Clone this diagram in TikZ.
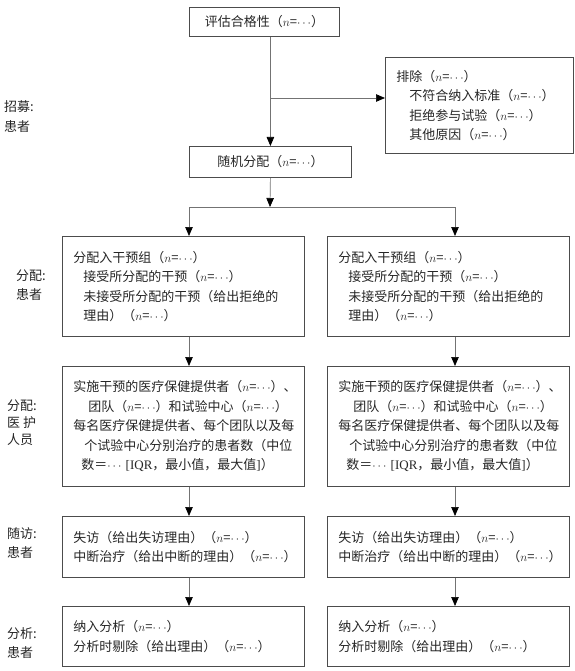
\documentclass[tikz,border=0pt]{standalone}
\usepackage{fontspec}
\setmainfont{Noto Sans CJK SC}
\newfontfamily\tnr{Liberation Serif}
\usetikzlibrary{arrows.meta,positioning}
\definecolor{boxgray}{gray}{0.3}
\definecolor{linegray}{gray}{0.45}
\definecolor{txtgray}{gray}{0.15}
\newcommand\nval{（$n$=$\cdots$）}
\tikzset{
  stage/.style={draw=boxgray, line width=0.8pt, rectangle, anchor=north west,
    inner xsep=11pt, inner ysep=0pt, text width=220pt, align=left, text=txtgray,
    font=\fontsize{13pt}{19.5pt}\selectfont},
  plainbox/.style={draw=boxgray, line width=0.8pt, rectangle, anchor=north west,
    inner sep=0pt, text=txtgray, font=\fontsize{13pt}{16pt}\selectfont},
  sidelabel/.style={anchor=west, inner sep=0pt, align=left, text=txtgray},
  conn/.style={draw=linegray, line width=0.7pt},
  arr/.style={conn, -{Triangle[length=9pt,width=7.5pt,color=black]}}
}

\begin{document}
\begin{tikzpicture}[x=1pt,y=-1pt]
\useasboundingbox (0,0) rectangle (574,671);

\node[plainbox, minimum width=150pt, minimum height=29pt] (elig) at (189,7) {评估合格性\nval};
\node[stage, text width=166pt, minimum height=96pt] (excl) at (385,57)
  {排除\nval\\
   \hspace*{13pt}不符合纳入标准\nval\\
   \hspace*{13pt}拒绝参与试验\nval\\
   \hspace*{13pt}其他原因\nval};
\node[plainbox, minimum width=162pt, minimum height=31pt] (rand) at (189,146) {随机分配\nval};

\node[sidelabel, font=\fontsize{13pt}{20pt}\selectfont] (labrec) at (4,117) {招募:\\患者};
\node[sidelabel, font=\fontsize{13pt}{19pt}\selectfont] (labpat) at (16,285.5) {分配:\\患者};
\node[sidelabel, font=\fontsize{13pt}{17pt}\selectfont] (labprov) at (7,423) {分配:\\医\hspace{3pt}护\\人员};
\node[sidelabel, font=\fontsize{13pt}{19pt}\selectfont] (labfup) at (7,543.5) {随访:\\患者};
\node[sidelabel, font=\fontsize{13pt}{19pt}\selectfont] (labana) at (7,643.5) {分析:\\患者};

\coordinate (exsplit) at (270,98);
\coordinate (split) at (270,207);
\coordinate (colL) at (189,207);
\coordinate (colR) at (455,207);

\draw[arr] (rand.north |- elig.south) -- (rand.north);
\draw[arr] (exsplit) -- (exsplit -| excl.west);
\draw[arr] (rand.south) -- (split);
\draw[conn] (colL) -- (colR);

\foreach \x/\c in {62/L,327/R}
         {
           \node[stage, minimum height=100pt] (alloc\c) at (\x,236)
             {分配入干预组\nval\\
              \hspace*{10pt}接受所分配的干预\nval\\
              \hspace*{10pt}未接受所分配的干预（给出拒绝的\\
              \hspace*{10pt}理由）\nval};
           \node[stage, minimum height=120pt] (prov\c) at (\x,366)
             {实施干预的医疗保健提供者\nval、\\
              \hspace*{15pt}团队\nval 和试验中心\nval\\
              每名医疗保健提供者、每个团队以及每\\
              \hspace*{11pt}个试验中心分别治疗的患者数（中位\\
              \hspace*{8pt}数＝$\cdots$~{\tnr[IQR}，最小值，最大值{\tnr]}）};
           \node[stage, minimum height=61pt] (fup\c) at (\x,516)
             {失访（给出失访理由）\nval\\
              中断治疗（给出中断的理由）\nval};
           \node[stage, minimum height=60pt] (ana\c) at (\x,606)
             {纳入分析\nval\\
              分析时剔除（给出理由）\nval};

           \draw[arr] (col\c) -- (col\c |- alloc\c.north);
           \draw[arr] (col\c |- alloc\c.south) -- (col\c |- prov\c.north);
           \draw[arr] (col\c |- prov\c.south) -- (col\c |- fup\c.north);
           \draw[arr] (col\c |- fup\c.south) -- (col\c |- ana\c.north);
         }

\end{tikzpicture}
\end{document}
